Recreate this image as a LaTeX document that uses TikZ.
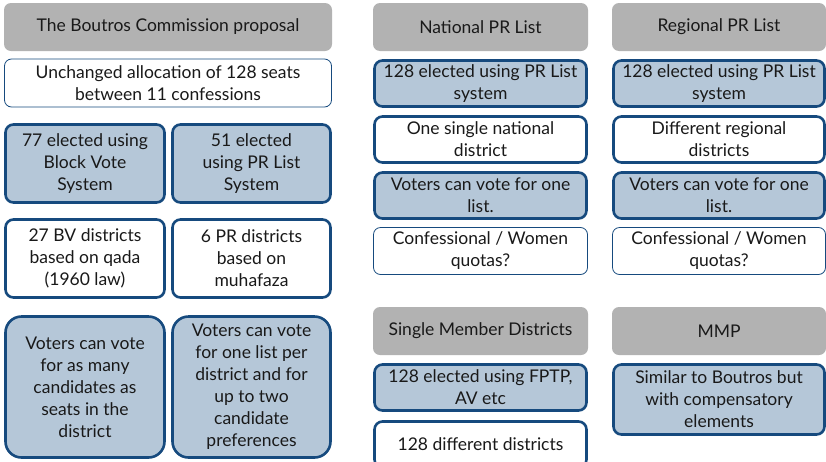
\documentclass[tikz,border=0pt]{standalone}
\usepackage{fontspec}
\setmainfont{Lato}
\definecolor{headgray}{RGB}{178,178,178}
\definecolor{boxblue}{RGB}{181,199,216}
\definecolor{edgeblue}{RGB}{22,74,126}
\begin{document}
\begin{tikzpicture}[
            x=1pt, y=-1pt,
            every node/.style={align=center, inner sep=0pt, text=black!90,
                font=\fontsize{17.5}{22}\selectfont},
            header/.style={fill=headgray, rounded corners=7pt, minimum height=48},
            note/.style={draw=edgeblue, line width=0.8pt, fill=white, rounded corners=7pt},
            bluebox/.style={draw=edgeblue, line width=2.6pt, fill=boxblue, rounded corners=8pt},
            whitebox/.style={draw=edgeblue, line width=2.6pt, fill=white, rounded corners=8pt}
        ]
        \clip (0,0) rectangle (826,461);
        \fill[white] (0,0) rectangle (826,461);
        % Boutros proposal
        \node[header, minimum width=328] (boutros) at (168,27) {The Boutros Commission proposal};
        \node[note, minimum width=327, minimum height=48] (alloc) at (168,83) {Unchanged allocation of 128 seats\\between 11 confessions};
        \node[bluebox, minimum width=159, minimum height=78] (bv) at (85,163.5) {77 elected using\\Block Vote\\System};
        \node[bluebox, minimum width=158, minimum height=78] (pr) at (251.5,163.5) {51 elected\\using PR List\\System};
        \node[whitebox, minimum width=159, minimum height=78] (bvdist) at (85,258.5) {27 BV districts\\based on qada\\(1960 law)};
        \node[whitebox, minimum width=158, minimum height=78] (prdist) at (251.5,258.5) {6 PR districts\\based on\\muhafaza};
        \node[bluebox, rounded corners=16pt, minimum width=159, minimum height=141] (bvvote) at (85,387) {Voters can vote\\for as many\\candidates as\\seats in the\\district};
        \node[bluebox, rounded corners=16pt, minimum width=158, minimum height=141] (prvote) at (251.5,387) {Voters can vote\\for one list per\\district and for\\up to two\\candidate\\preferences};
        % National PR list
        \node[header, minimum width=215] (nat) at (480.5,27) {National PR List};
        \node[bluebox, minimum width=212, minimum height=46] (natpr) at (480.5,83.5) {128 elected using PR List\\system};
        \node[whitebox, minimum width=212, minimum height=46] (natdist) at (480.5,139.5) {One single national\\district};
        \node[bluebox, minimum width=212, minimum height=46] (natvote) at (480.5,195.5) {Voters can vote for one\\list.};
        \node[note, minimum width=214, minimum height=47] (natquota) at (480.5,251) {Confessional / Women\\quotas?};
        % Regional PR list
        \node[header, minimum width=214] (reg) at (719,27) {Regional PR List};
        \node[bluebox, minimum width=211, minimum height=46] (regpr) at (719,83.5) {128 elected using PR List\\system};
        \node[whitebox, minimum width=211, minimum height=46] (regdist) at (719,139.5) {Different regional\\districts};
        \node[bluebox, minimum width=211, minimum height=46] (regvote) at (719,195.5) {Voters can vote for one\\list.};
        \node[note, minimum width=213, minimum height=47] (regquota) at (719,251) {Confessional / Women\\quotas?};
        % Single member districts
        \node[header, minimum width=215] (smd) at (480.5,331) {Single Member Districts};
        \node[bluebox, minimum width=212, minimum height=46] (smdfptp) at (480.5,387.5) {128 elected using FPTP,\\AV etc};
        \node[whitebox, minimum width=212, minimum height=46] (smddist) at (480.5,444.5) {128 different districts};
        % MMP
        \node[header, minimum width=214] (mmp) at (719,331) {MMP};
        \node[bluebox, minimum width=211, minimum height=70] (mmpsim) at (719,399.5) {Similar to Boutros but\\with compensatory\\elements};
    \end{tikzpicture}
\end{document}
